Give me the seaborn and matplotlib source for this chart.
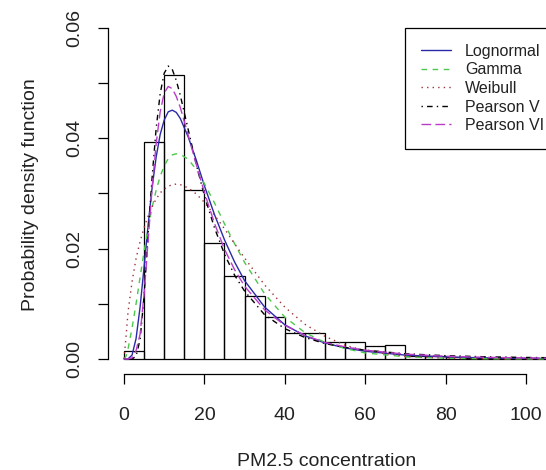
import matplotlib
matplotlib.use("Agg")
import matplotlib.pyplot as plt
from matplotlib.lines import Line2D
import seaborn as sns

# histogram of PM2.5 (density per 5-unit bin)
bin_edges = [0, 5, 10, 15, 20, 25, 30, 35, 40, 45, 50, 55, 60, 65, 70,
             75, 80, 85, 90, 95, 100, 105, 110]
bin_density = [0.0015, 0.0394, 0.0514, 0.0306, 0.0210, 0.0150, 0.0115, 0.0077,
               0.0048, 0.0047, 0.0030, 0.0030, 0.0024, 0.0025, 0.0006, 0.0005,
               0.0003, 0.0002, 0.0002, 0.0001, 0.0001, 0.0001]
bin_mid = [(a + b) / 2 for a, b in zip(bin_edges[:-1], bin_edges[1:])]

# fitted density curves
pm = [0, 0.5, 1, 2, 3, 4, 5, 6, 7, 8, 9, 10, 11, 12, 13, 14, 16, 18, 20,
      22.5, 25, 27.5, 30, 35, 40, 45, 50, 55, 60, 70, 80, 90, 100, 110]
lognormal = [0, 0, 0.00002, 0.0007, 0.0037, 0.0094, 0.0167, 0.0243, 0.0311,
             0.0366, 0.0407, 0.0433, 0.0448, 0.0451, 0.0447, 0.0436, 0.0402,
             0.0360, 0.0314, 0.0262, 0.0216, 0.0176, 0.0142, 0.0094, 0.0062,
             0.0042, 0.0029, 0.0020, 0.0014, 0.0007, 0.00037, 0.0002, 0.00011,
             0.00007]
gamma = [0, 0.0005, 0.0018, 0.0056, 0.0100, 0.0148, 0.0195, 0.0238, 0.0275,
         0.0306, 0.0331, 0.0350, 0.0363, 0.0370, 0.0372, 0.0371, 0.0362,
         0.0343, 0.0318, 0.0283, 0.0245, 0.0209, 0.0175, 0.0118, 0.0076,
         0.0048, 0.0030, 0.0019, 0.0011, 0.0004, 0.00013, 0.00004, 0.00001, 0]
weibull = [0, 0.0040, 0.0085, 0.0140, 0.0182, 0.0213, 0.0238, 0.0259, 0.0276,
           0.0290, 0.0301, 0.0308, 0.0313, 0.0316, 0.0317, 0.0316, 0.0310,
           0.0299, 0.0284, 0.0261, 0.0236, 0.0209, 0.0183, 0.0134, 0.0094,
           0.0063, 0.0041, 0.0025, 0.0015, 0.0005, 0.00014, 0.00004, 0.00001, 0]
pearson5 = [0, 0, 0, 0, 0.0005, 0.0035, 0.0115, 0.0225, 0.0330, 0.0418,
            0.0481, 0.0518, 0.0531, 0.0525, 0.0505, 0.0478, 0.0415, 0.0352,
            0.0296, 0.0238, 0.0190, 0.0152, 0.0123, 0.0080, 0.0055, 0.0039,
            0.0028, 0.0021, 0.0016, 0.00095, 0.0006, 0.0004, 0.00028, 0.0002]
pearson6 = [0, 0, 0, 0.0002, 0.0015, 0.0045, 0.0118, 0.0215, 0.0310, 0.0390,
            0.0448, 0.0482, 0.0494, 0.0490, 0.0476, 0.0456, 0.0405, 0.0352,
            0.0302, 0.0246, 0.0199, 0.0162, 0.0132, 0.0089, 0.0061, 0.0043,
            0.0030, 0.0022, 0.0016, 0.00088, 0.0005, 0.0003, 0.0002, 0.00012]

names = ["Lognormal", "Gamma", "Weibull", "Pearson V", "Pearson VI"]
curves = [lognormal, gamma, weibull, pearson5, pearson6]
colors = ["#2a2aa8", "#4cc84c", "#a0303a", "black", "#b83cc8"]
styles = ["-", (0, (4, 4)), (0, (1, 3)), (0, (1, 3, 4, 3)), (0, (7, 3))]

sns.set_style("ticks")
plt.rcParams["font.family"] = ["Liberation Sans", "DejaVu Sans"]

fig = plt.figure(figsize=(5.46, 4.70), dpi=100)
ax = fig.add_axes([108 / 546, 96 / 470, 438 / 546, 359 / 470])

sns.histplot(x=bin_mid, weights=bin_density, bins=bin_edges, fill=False,
             color="black", linewidth=0.9, ax=ax)

for y, c, ls in zip(curves, colors, styles):
    sns.lineplot(x=pm, y=y, color=c, linestyle=ls, linewidth=1.0, ax=ax)

ax.set_xlim(-3.98, 104.98)
ax.set_ylim(-0.00272, 0.06235)

ax.set_xticks([0, 20, 40, 60, 80, 100])
ax.set_xticklabels(["0", "20", "40", "60", "80", "100"])
ax.set_yticks([0, 0.01, 0.02, 0.03, 0.04, 0.05, 0.06])
ax.set_yticklabels(["0.00", "", "0.02", "", "0.04", "", "0.06"],
                   rotation=90, va="center")
ax.tick_params(axis="both", labelsize=14, length=7.5, width=0.9,
               color="black", labelcolor="#222222")
ax.tick_params(axis="x", pad=16)
ax.tick_params(axis="y", pad=10)

for s in ["top", "right"]:
    ax.spines[s].set_visible(False)
ax.spines["left"].set_bounds(0, 0.06)
ax.spines["bottom"].set_bounds(0, 100)
for s in ["left", "bottom"]:
    ax.spines[s].set_linewidth(0.9)
    ax.spines[s].set_color("black")

ax.set_xlabel("PM2.5 concentration", fontsize=14, color="#222222", labelpad=21)
ax.set_ylabel("Probability density function", fontsize=14, color="#222222",
              labelpad=20)

handles = [Line2D([0], [0], color=c, linestyle=ls, linewidth=1.0)
           for c, ls in zip(colors, styles)]
leg = fig.legend(handles, names, loc="upper left",
                 bbox_to_anchor=(405 / 546, 1 - 28 / 470),
                 fontsize=11.5, frameon=True, fancybox=False, borderpad=1.0,
                 handlelength=1.9, handletextpad=0.85, labelspacing=0.22,
                 borderaxespad=0)
leg.get_frame().set_edgecolor("black")
leg.get_frame().set_linewidth(0.9)
leg.get_frame().set_alpha(1)
for t in leg.get_texts():
    t.set_color("#222222")

fig.savefig("out.png", dpi=100)
